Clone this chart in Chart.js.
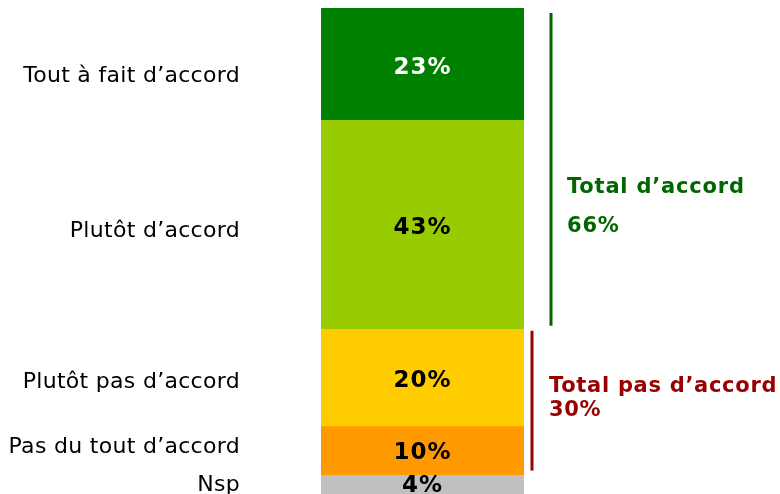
<!DOCTYPE html>
<html>
<head>
<meta charset="utf-8">
<script src="https://cdn.jsdelivr.net/npm/chart.js@4/dist/chart.umd.min.js"></script>
<style>
html,body{margin:0;padding:0;background:#fff;}
#wrap{width:780px;height:494px;position:relative;}
</style>
</head>
<body>
<div id="wrap"><canvas id="c" width="780" height="494"></canvas></div>
<script>
const categories = ["Tout à fait d’accord", "Plutôt d’accord", "Plutôt pas d’accord", "Pas du tout d’accord", "Nsp"];
const values = [23, 43, 20, 10, 4];
const colors = ["#008000", "#99CC00", "#FFCC00", "#FF9900", "#C0C0C0"];
const valueLabelColors = ["#FFFFFF", "#000000", "#000000", "#000000", "#000000"];
const totalLabels = ["Total d’accord", "Total pas d’accord"];
const totalValues = ["66%", "30%"];
const totalColors = ["#006600", "#990000"];

const FONT = "'DejaVu Sans', Verdana, sans-serif";

const overlay = {
  id: 'overlay',
  afterDatasetsDraw(chart) {
    const ctx = chart.ctx;
    const y = chart.scales.y;
    const ca = chart.chartArea;
    let cum = 0;
    const bounds = [];
    values.forEach((v, i) => {
      const y0 = y.getPixelForValue(cum);
      const y1 = y.getPixelForValue(cum + v);
      bounds.push([y0, y1]);
      const mid = (y0 + y1) / 2;
      ctx.save();
      ctx.letterSpacing = '1px';
      ctx.font = "bold 23px " + FONT;
      ctx.fillStyle = valueLabelColors[i];
      ctx.textAlign = 'center';
      ctx.textBaseline = 'middle';
      const voff = [4, 4, 4, 3, 2][i];
      ctx.fillText(v + '%', (ca.left + ca.right) / 2, mid + voff);
      ctx.letterSpacing = '0.3px';
      ctx.font = "22px " + FONT;
      ctx.fillStyle = '#000';
      ctx.textAlign = 'right';
      const off = [12, 7, 5, -3, 1][i];
      ctx.fillText(categories[i], 240, mid + off);
      ctx.restore();
      cum += v;
    });
    // brackets
    const agreeTop = bounds[0][0], agreeBot = bounds[1][1];
    const disTop = bounds[2][0], disBot = bounds[3][1];
    ctx.save();
    ctx.lineWidth = 3;
    ctx.strokeStyle = totalColors[0];
    ctx.beginPath();
    ctx.moveTo(551, agreeTop + 5);
    ctx.lineTo(551, agreeBot - 3);
    ctx.stroke();
    ctx.strokeStyle = totalColors[1];
    ctx.beginPath();
    ctx.moveTo(532, disTop + 2);
    ctx.lineTo(532, disBot - 4);
    ctx.stroke();
    ctx.letterSpacing = '0.8px';
    ctx.font = "bold 21px " + FONT;
    ctx.textAlign = 'left';
    ctx.textBaseline = 'middle';
    ctx.fillStyle = totalColors[0];
    ctx.fillText(totalLabels[0], 567, 188);
    ctx.fillText(totalValues[0], 567, 227);
    ctx.fillStyle = totalColors[1];
    ctx.letterSpacing = '0.7px';
    ctx.fillText(totalLabels[1], 549, 387);
    ctx.fillText(totalValues[1], 549, 411);
    ctx.restore();
  }
};

new Chart(document.getElementById('c'), {
  type: 'bar',
  data: {
    labels: [''],
    datasets: values.map((v, i) => ({
      label: categories[i],
      data: [v],
      backgroundColor: colors[i],
      borderWidth: 0,
      barPercentage: 1,
      categoryPercentage: 1
    }))
  },
  options: {
    responsive: false,
    animation: false,
    layout: { padding: { left: 321, right: 256, top: 8, bottom: 0 } },
    plugins: { legend: { display: false }, tooltip: { enabled: false } },
    scales: {
      x: { stacked: true, display: false },
      y: { stacked: true, display: false, reverse: true, min: 0, max: 100 }
    }
  },
  plugins: [overlay]
});
</script>
</body>
</html>
